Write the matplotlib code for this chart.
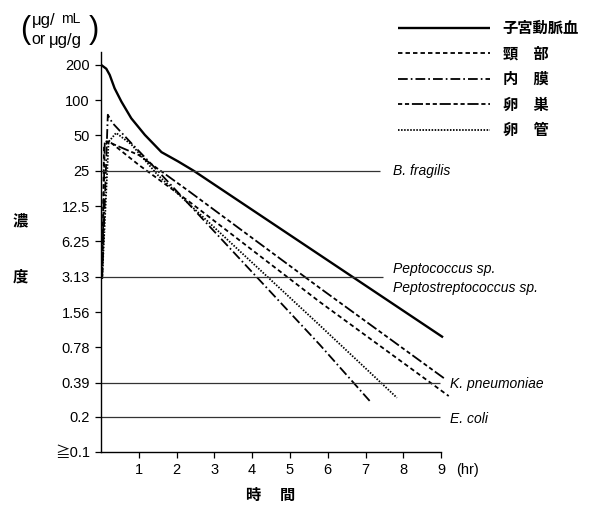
import numpy as np
import matplotlib.pyplot as plt

plt.rcParams['font.family'] = ['Liberation Sans', 'Noto Sans CJK JP', 'DejaVu Sans']
plt.rcParams['lines.scale_dashes'] = False

# concentration vs time (hr), one series per site
t_artery = [0, 0.14, 0.23, 0.36, 0.54, 0.8, 1.16, 1.6, 2.04, 2.45, 9.05]
c_artery = [200, 185, 164, 126, 97, 70, 50.5, 36, 30, 25, 0.95]

t_cervix = [0.03, 0.08, 0.2, 1.0, 2.35, 5.79, 9.2]
c_cervix = [3, 40, 45, 28, 13.5, 1.9, 0.3]

t_endo = [0.03, 0.18, 0.3, 0.8, 1.5, 5.79, 7.12]
c_endo = [3, 75, 64, 43, 25, 0.82, 0.27]

t_ovary = [0.03, 0.1, 0.26, 1.0, 2.35, 5.79, 9.1]
c_ovary = [3, 45, 43, 34, 16.5, 2.5, 0.42]

t_tube = [0.03, 0.2, 0.4, 0.8, 1.5, 5.79, 7.83]
c_tube = [3, 44, 52.5, 42, 23, 1.2, 0.29]

series_names = ['子宮動脈血', '頸　部', '内　膜', '卵　巣', '卵　管']

# MIC reference levels
mic_values = [25, 3.13, 0.39, 0.2]
mic_xmax = [7.38, 7.45, 8.97, 8.97]

ytick_vals = [200, 100, 50, 25, 12.5, 6.25, 3.13, 1.56, 0.78, 0.39, 0.2, 0.1]
ytick_labels = ['200', '100', '50', '25', '12.5', '6.25', '3.13', '1.56',
                '0.78', '0.39', '0.2', '≧0.1']
xtick_vals = [1, 2, 3, 4, 5, 6, 7, 8, 9]

W, H = 589, 509
fig = plt.figure(figsize=(W / 100, H / 100), dpi=100)
ax = fig.add_axes([101 / W, 57 / H, 351.5 / W, 400 / H])

styles = [
    dict(ls='-', lw=1.7),
    dict(ls=(0, (3.2, 2.2)), lw=1.3),
    dict(ls=(0, (7, 2.2, 1.2, 2.2)), lw=1.3),
    dict(ls=(0, (3, 2, 3, 2, 8, 2)), lw=1.3),
    dict(ls=(0, (1.1, 1.1)), lw=1.3),
]
data = [(t_artery, c_artery), (t_cervix, c_cervix), (t_endo, c_endo),
        (t_ovary, c_ovary), (t_tube, c_tube)]
handles = []
for (tt, cc), st, name in zip(data, styles, series_names):
    h, = ax.plot(tt, cc, color='black', clip_on=False, label=name,
                 solid_capstyle='butt', dash_capstyle='butt',
                 solid_joinstyle='round', **st)
    handles.append(h)

for v, xm in zip(mic_values, mic_xmax):
    ax.hlines(v, 0, xm, color='#333333', lw=0.9)

ax.set_yscale('log', base=2)
ax.set_ylim(0.1, 257)
ax.set_xlim(0, 9.3)
ax.set_yticks(ytick_vals)
ax.set_yticklabels(ytick_labels)
ax.yaxis.set_minor_locator(plt.NullLocator())
ax.set_xticks(xtick_vals)
ax.set_xticklabels([str(x) for x in xtick_vals])
ax.tick_params(direction='out', length=4, width=0.9, labelsize=10.5, pad=4)

for side in ['top', 'right']:
    ax.spines[side].set_visible(False)
ax.spines['bottom'].set_bounds(0, 9)
ax.spines['left'].set_linewidth(1.0)
ax.spines['bottom'].set_linewidth(1.0)

# organism labels
lab = dict(fontsize=10, style='italic', va='center', ha='left')
ax.text(7.72, 25, 'B. fragilis', **lab)
ax.text(7.72, 3.6, 'Peptococcus sp.', **lab)
ax.text(7.72, 2.5, 'Peptostreptococcus sp.', **lab)
ax.text(9.23, 0.38, 'K. pneumoniae', **lab)
ax.text(9.23, 0.19, 'E. coli', **lab)

# axis titles
fig.text(456 / W, 1 - 470 / H, '(hr)', fontsize=10.5, va='center', ha='left')
fig.text(271 / W, 1 - 495 / H, '時　 間', fontsize=11, va='center', ha='center',
         family=['Noto Sans CJK JP'], weight='bold')
fig.text(20 / W, 1 - 220 / H, '濃', fontsize=11, va='center', ha='center',
         family=['Noto Sans CJK JP'], weight='bold')
fig.text(20 / W, 1 - 277 / H, '度', fontsize=11, va='center', ha='center',
         family=['Noto Sans CJK JP'], weight='bold')

# unit label in brackets
fig.text(20 / W, 1 - 30 / H, '(', fontsize=22, va='center', ha='left')
fig.text(99 / W, 1 - 30 / H, ')', fontsize=22, va='center', ha='right')
fig.text(32 / W, 1 - 20 / H, 'μg/', fontsize=12, va='center', ha='left')
fig.text(61 / W, 1 - 19 / H, 'mL', fontsize=10, va='center', ha='left')
fig.text(31 / W, 1 - 40 / H, 'or', fontsize=11.5, va='center', ha='left')
fig.text(49 / W, 1 - 40 / H, 'μg/g', fontsize=12, va='center', ha='left')

fig.legend(handles=handles, loc='upper left',
           bbox_to_anchor=(398 / W, 1 - 20 / H), frameon=False,
           prop={'family': ['Noto Sans CJK JP'], 'size': 11, 'weight': 'bold'},
           handlelength=6.0, handletextpad=0.85, labelspacing=0.62,
           borderpad=0, borderaxespad=0)

fig.savefig('out.png', dpi=100)
